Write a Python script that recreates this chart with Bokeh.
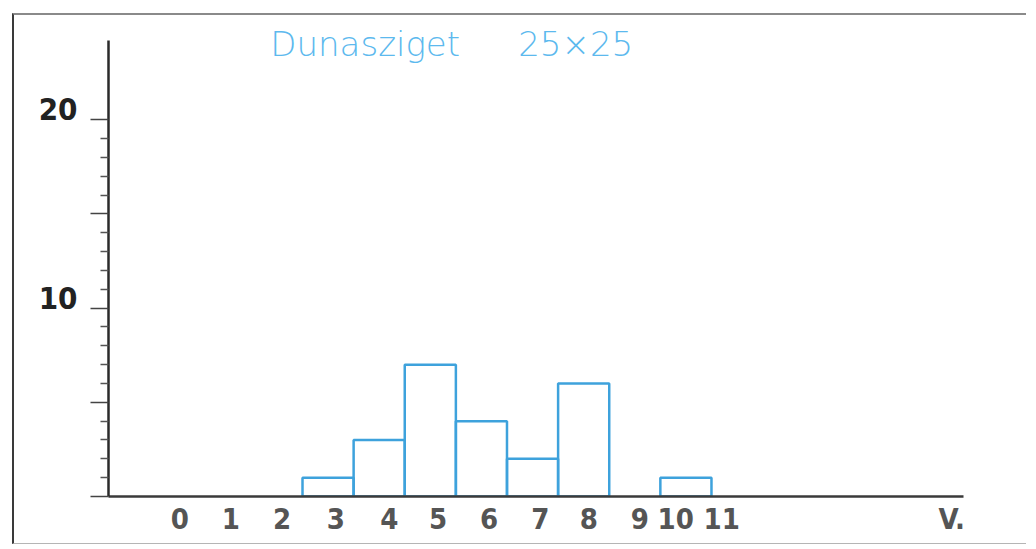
from bokeh.plotting import figure
from bokeh.models import FixedTicker, Label, Range1d, LinearAxis
from bokeh.embed import file_html
from bokeh.resources import INLINE

# ---- data ----
BINS = [0, 1, 2, 3, 4, 5, 6, 7, 8, 9, 10, 11]
COUNTS = [0, 0, 0, 1, 3, 7, 4, 2, 6, 0, 1, 0]
X_LABELS = ["0", "1", "2", "3", "4", "5", "6", "7", "8", "9", "10", "11"]
Y_MAJOR = [0, 5, 10, 15, 20]
Y_MINOR = [1, 2, 3, 4, 6, 7, 8, 9, 11, 12, 13, 14, 16, 17, 18, 19]
Y_LABEL_VALUES = [10, 20]
Y_LABELS = ["10", "20"]
TITLE_PLACE = "Dunasziget"
TITLE_GRID = "25×25"
X_UNIT = "V."

# ---- style (positions of the hand-lettered labels) ----
XTICK_POS = [0.1, 1.1, 2.1, 3.15, 4.2, 5.15, 6.15, 7.15, 8.1, 9.1, 9.8, 10.7]
X_UNIT_POS = 15.2
Y_LABEL_LIFT = 0.55
Y_AXIS_TOP = 24.2
BLUE_BAR = "#3ea2dc"
BLUE_TXT = "#5cb9ee"
NARROW = "'DejaVu Sans Condensed', 'Liberation Sans Narrow', sans-serif"

p = figure(width=1014, height=531,
           x_range=Range1d(-1.295, 15.43), y_range=Range1d(0, 25.48),
           output_backend="svg", toolbar_location=None,
           min_border_left=94, min_border_right=65,
           min_border_top=1, min_border_bottom=50)
p.styles = {"border-left": "2px solid #3a3a3a",
            "border-top": "2px solid #8a8a8a",
            "border-bottom": "1px solid #b5b5b5",
            "margin-left": "12px", "margin-top": "13px"}
p.outline_line_color = None
p.grid.visible = False
p.background_fill_color = "white"

xs = [b for b, c in zip(BINS, COUNTS) if c > 0]
ys = [c for c in COUNTS if c > 0]
p.vbar(x=xs, top=ys, width=1.0, bottom=0, fill_alpha=0,
       line_color=BLUE_BAR, line_width=2.5)

# x axis
xa = p.xaxis[0]
xa.ticker = FixedTicker(ticks=XTICK_POS + [X_UNIT_POS])
overrides = {pos: lab for pos, lab in zip(XTICK_POS, X_LABELS)}
overrides[X_UNIT_POS] = X_UNIT
xa.major_label_overrides = overrides
xa.major_tick_line_color = None
xa.minor_tick_line_color = None
xa.axis_line_color = "#3a3a3a"
xa.axis_line_width = 2.5
xa.major_label_text_font = NARROW
xa.major_label_text_font_style = "bold"
xa.major_label_text_font_size = "29px"
xa.major_label_text_color = "#555555"
xa.major_label_standoff = -1

# y axis (ticks only)
ya = p.yaxis[0]
ya.bounds = (0, Y_AXIS_TOP)
ya.ticker = FixedTicker(ticks=Y_MAJOR, minor_ticks=Y_MINOR)
ya.major_label_overrides = {t: "" for t in Y_MAJOR}
ya.major_label_standoff = 0
ya.axis_line_color = "#2a2a2a"
ya.axis_line_width = 2.5
ya.major_tick_out = 18
ya.major_tick_in = 0
ya.major_tick_line_width = 1.5
ya.major_tick_line_color = "#444444"
ya.minor_tick_out = 8
ya.minor_tick_in = 0
ya.minor_tick_line_width = 1.5
ya.minor_tick_line_color = "#555555"

# y labels sit slightly above their ticks
lab_pos = [v + Y_LABEL_LIFT for v in Y_LABEL_VALUES]
yl = LinearAxis(ticker=FixedTicker(ticks=lab_pos),
                major_label_overrides={pos: lab for pos, lab in zip(lab_pos, Y_LABELS)},
                axis_line_color=None, major_tick_line_color=None,
                minor_tick_line_color=None, major_tick_out=0, major_tick_in=0,
                major_label_standoff=13,
                major_label_text_font=NARROW, major_label_text_font_style="bold",
                major_label_text_font_size="31px", major_label_text_color="#222222")
p.add_layout(yl, "left")

# title texts
for txt, xpos in [(TITLE_PLACE, 1.87), (TITLE_GRID, 6.72)]:
    p.add_layout(Label(x=xpos, y=24.0, text=txt, text_color=BLUE_TXT,
                       text_font="'DejaVu Sans ExtraLight', 'DejaVu Sans Light', 'Open Sans', sans-serif",
                       text_font_size="34px", text_baseline="middle"))

open("out.html", "w").write(file_html(p, INLINE))
